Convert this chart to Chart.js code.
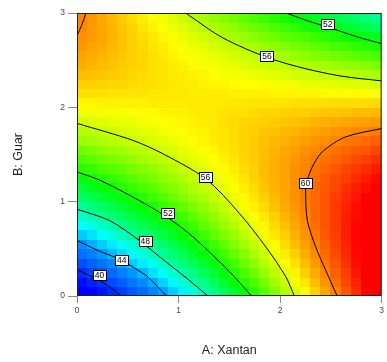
<!DOCTYPE html>
<html>
<head>
<meta charset="utf-8">
<script src="https://cdn.jsdelivr.net/npm/chart.js@4"></script>
<style>
    html, body { margin: 0; padding: 0; background: #fff; }
    canvas { display: block; }
</style>
</head>
<body>
<canvas id="contourChart" width="387" height="362"></canvas>
<script>
// cell centres of the response grid (A: Xantan across, B: Guar up)
const xantanCenters = [0.05, 0.15, 0.25, 0.35, 0.45, 0.55, 0.65, 0.75, 0.85, 0.95,
    1.05, 1.15, 1.25, 1.35, 1.45, 1.55, 1.65, 1.75, 1.85, 1.95,
    2.05, 2.15, 2.25, 2.35, 2.45, 2.55, 2.65, 2.75, 2.85, 2.95];
const guarCenters = [0.05, 0.15, 0.25, 0.35, 0.45, 0.55, 0.65, 0.75, 0.85, 0.95,
    1.05, 1.15, 1.25, 1.35, 1.45, 1.55, 1.65, 1.75, 1.85, 1.95,
    2.05, 2.15, 2.25, 2.35, 2.45, 2.55, 2.65, 2.75, 2.85, 2.95];

// response per cell, one row per guar level (bottom row first)
const responseByGuar = [
    [37.0, 37.9, 38.8, 39.8, 40.7, 41.6, 42.5, 43.5, 44.4, 45.3, 46.2, 47.2, 48.1, 49.0, 49.9, 50.9, 51.8, 52.7, 53.6, 54.6, 55.5, 56.4, 57.3, 58.3, 59.2, 60.1, 61.0, 62.0, 62.9, 63.8],
    [38.5, 39.4, 40.2, 41.1, 42.0, 42.9, 43.8, 44.6, 45.5, 46.4, 47.3, 48.2, 49.0, 49.9, 50.8, 51.7, 52.6, 53.4, 54.3, 55.2, 56.1, 57.0, 57.8, 58.7, 59.6, 60.5, 61.4, 62.2, 63.1, 64.0],
    [39.9, 40.8, 41.6, 42.4, 43.3, 44.1, 44.9, 45.8, 46.6, 47.5, 48.3, 49.1, 50.0, 50.8, 51.6, 52.5, 53.3, 54.1, 55.0, 55.8, 56.6, 57.5, 58.3, 59.1, 60.0, 60.8, 61.6, 62.5, 63.3, 64.2],
    [41.3, 42.1, 42.9, 43.7, 44.5, 45.3, 46.1, 46.9, 47.7, 48.5, 49.2, 50.0, 50.8, 51.6, 52.4, 53.2, 54.0, 54.8, 55.6, 56.3, 57.1, 57.9, 58.7, 59.5, 60.3, 61.1, 61.9, 62.7, 63.5, 64.2],
    [42.7, 43.4, 44.2, 44.9, 45.7, 46.4, 47.2, 47.9, 48.7, 49.4, 50.1, 50.9, 51.6, 52.4, 53.1, 53.9, 54.6, 55.4, 56.1, 56.8, 57.6, 58.3, 59.1, 59.8, 60.6, 61.3, 62.1, 62.8, 63.5, 64.3],
    [44.0, 44.7, 45.4, 46.1, 46.8, 47.5, 48.2, 48.9, 49.6, 50.3, 51.0, 51.7, 52.4, 53.1, 53.8, 54.5, 55.2, 55.9, 56.6, 57.3, 58.0, 58.7, 59.4, 60.1, 60.8, 61.5, 62.2, 62.9, 63.6, 64.3],
    [45.3, 45.9, 46.6, 47.2, 47.9, 48.5, 49.2, 49.8, 50.5, 51.1, 51.8, 52.4, 53.1, 53.8, 54.4, 55.1, 55.7, 56.4, 57.0, 57.7, 58.3, 59.0, 59.6, 60.3, 61.0, 61.6, 62.3, 62.9, 63.6, 64.2],
    [46.5, 47.1, 47.7, 48.3, 48.9, 49.5, 50.1, 50.7, 51.3, 51.9, 52.5, 53.1, 53.8, 54.4, 55.0, 55.6, 56.2, 56.8, 57.4, 58.0, 58.6, 59.2, 59.8, 60.5, 61.1, 61.7, 62.3, 62.9, 63.5, 64.1],
    [47.6, 48.2, 48.7, 49.3, 49.9, 50.4, 51.0, 51.5, 52.1, 52.7, 53.2, 53.8, 54.4, 54.9, 55.5, 56.1, 56.6, 57.2, 57.7, 58.3, 58.9, 59.4, 60.0, 60.6, 61.1, 61.7, 62.3, 62.8, 63.4, 64.0],
    [48.7, 49.2, 49.7, 50.3, 50.8, 51.3, 51.8, 52.3, 52.8, 53.4, 53.9, 54.4, 54.9, 55.4, 56.0, 56.5, 57.0, 57.5, 58.0, 58.6, 59.1, 59.6, 60.1, 60.6, 61.1, 61.7, 62.2, 62.7, 63.2, 63.7],
    [49.7, 50.2, 50.7, 51.2, 51.6, 52.1, 52.6, 53.1, 53.5, 54.0, 54.5, 55.0, 55.4, 55.9, 56.4, 56.8, 57.3, 57.8, 58.3, 58.7, 59.2, 59.7, 60.2, 60.6, 61.1, 61.6, 62.1, 62.5, 63.0, 63.5],
    [50.7, 51.2, 51.6, 52.0, 52.5, 52.9, 53.3, 53.7, 54.2, 54.6, 55.0, 55.5, 55.9, 56.3, 56.7, 57.2, 57.6, 58.0, 58.5, 58.9, 59.3, 59.7, 60.2, 60.6, 61.0, 61.4, 61.9, 62.3, 62.7, 63.2],
    [51.7, 52.1, 52.5, 52.8, 53.2, 53.6, 54.0, 54.4, 54.8, 55.1, 55.5, 55.9, 56.3, 56.7, 57.0, 57.4, 57.8, 58.2, 58.6, 59.0, 59.3, 59.7, 60.1, 60.5, 60.9, 61.3, 61.6, 62.0, 62.4, 62.8],
    [52.6, 52.9, 53.3, 53.6, 53.9, 54.3, 54.6, 54.9, 55.3, 55.6, 56.0, 56.3, 56.6, 57.0, 57.3, 57.6, 58.0, 58.3, 58.7, 59.0, 59.3, 59.7, 60.0, 60.4, 60.7, 61.0, 61.4, 61.7, 62.0, 62.4],
    [53.4, 53.7, 54.0, 54.3, 54.6, 54.9, 55.2, 55.5, 55.8, 56.1, 56.4, 56.6, 56.9, 57.2, 57.5, 57.8, 58.1, 58.4, 58.7, 59.0, 59.3, 59.6, 59.9, 60.2, 60.4, 60.7, 61.0, 61.3, 61.6, 61.9],
    [54.2, 54.5, 54.7, 55.0, 55.2, 55.5, 55.7, 56.0, 56.2, 56.4, 56.7, 56.9, 57.2, 57.4, 57.7, 57.9, 58.2, 58.4, 58.7, 58.9, 59.2, 59.4, 59.7, 59.9, 60.2, 60.4, 60.7, 60.9, 61.1, 61.4],
    [55.0, 55.2, 55.4, 55.6, 55.8, 56.0, 56.2, 56.4, 56.6, 56.8, 57.0, 57.2, 57.4, 57.6, 57.8, 58.0, 58.2, 58.4, 58.6, 58.8, 59.0, 59.2, 59.4, 59.6, 59.8, 60.0, 60.2, 60.4, 60.6, 60.8],
    [55.6, 55.8, 56.0, 56.1, 56.3, 56.4, 56.6, 56.7, 56.9, 57.1, 57.2, 57.4, 57.5, 57.7, 57.8, 58.0, 58.2, 58.3, 58.5, 58.6, 58.8, 58.9, 59.1, 59.3, 59.4, 59.6, 59.7, 59.9, 60.0, 60.2],
    [56.3, 56.4, 56.5, 56.6, 56.7, 56.8, 57.0, 57.1, 57.2, 57.3, 57.4, 57.5, 57.6, 57.7, 57.9, 58.0, 58.1, 58.2, 58.3, 58.4, 58.5, 58.6, 58.7, 58.9, 59.0, 59.1, 59.2, 59.3, 59.4, 59.5],
    [56.9, 56.9, 57.0, 57.1, 57.1, 57.2, 57.3, 57.3, 57.4, 57.5, 57.5, 57.6, 57.7, 57.7, 57.8, 57.9, 57.9, 58.0, 58.1, 58.1, 58.2, 58.3, 58.3, 58.4, 58.5, 58.5, 58.6, 58.7, 58.7, 58.8],
    [57.4, 57.4, 57.5, 57.5, 57.5, 57.5, 57.5, 57.6, 57.6, 57.6, 57.6, 57.7, 57.7, 57.7, 57.7, 57.7, 57.8, 57.8, 57.8, 57.8, 57.8, 57.9, 57.9, 57.9, 57.9, 58.0, 58.0, 58.0, 58.0, 58.0],
    [57.9, 57.9, 57.9, 57.8, 57.8, 57.8, 57.8, 57.7, 57.7, 57.7, 57.7, 57.6, 57.6, 57.6, 57.6, 57.5, 57.5, 57.5, 57.5, 57.4, 57.4, 57.4, 57.4, 57.4, 57.3, 57.3, 57.3, 57.3, 57.2, 57.2],
    [58.3, 58.3, 58.2, 58.1, 58.1, 58.0, 57.9, 57.9, 57.8, 57.7, 57.6, 57.6, 57.5, 57.4, 57.4, 57.3, 57.2, 57.2, 57.1, 57.0, 57.0, 56.9, 56.8, 56.7, 56.7, 56.6, 56.5, 56.5, 56.4, 56.3],
    [58.7, 58.6, 58.5, 58.4, 58.3, 58.1, 58.0, 57.9, 57.8, 57.7, 57.6, 57.5, 57.4, 57.2, 57.1, 57.0, 56.9, 56.8, 56.7, 56.6, 56.4, 56.3, 56.2, 56.1, 56.0, 55.9, 55.8, 55.6, 55.5, 55.4],
    [59.1, 58.9, 58.7, 58.6, 58.4, 58.3, 58.1, 57.9, 57.8, 57.6, 57.5, 57.3, 57.1, 57.0, 56.8, 56.7, 56.5, 56.3, 56.2, 56.0, 55.9, 55.7, 55.5, 55.4, 55.2, 55.1, 54.9, 54.8, 54.6, 54.4],
    [59.3, 59.1, 58.9, 58.7, 58.5, 58.3, 58.1, 57.9, 57.7, 57.5, 57.3, 57.1, 56.9, 56.7, 56.5, 56.3, 56.1, 55.9, 55.7, 55.5, 55.2, 55.0, 54.8, 54.6, 54.4, 54.2, 54.0, 53.8, 53.6, 53.4],
    [59.6, 59.3, 59.1, 58.8, 58.6, 58.3, 58.1, 57.8, 57.6, 57.3, 57.1, 56.8, 56.6, 56.3, 56.1, 55.8, 55.6, 55.3, 55.1, 54.8, 54.6, 54.3, 54.1, 53.8, 53.6, 53.3, 53.1, 52.8, 52.6, 52.3],
    [59.7, 59.5, 59.2, 58.9, 58.6, 58.3, 58.0, 57.7, 57.4, 57.1, 56.8, 56.5, 56.2, 55.9, 55.6, 55.3, 55.0, 54.7, 54.4, 54.1, 53.8, 53.6, 53.3, 53.0, 52.7, 52.4, 52.1, 51.8, 51.5, 51.2],
    [59.9, 59.5, 59.2, 58.9, 58.5, 58.2, 57.8, 57.5, 57.2, 56.8, 56.5, 56.1, 55.8, 55.5, 55.1, 54.8, 54.4, 54.1, 53.8, 53.4, 53.1, 52.7, 52.4, 52.1, 51.7, 51.4, 51.0, 50.7, 50.4, 50.0],
    [60.0, 59.6, 59.2, 58.8, 58.4, 58.0, 57.6, 57.3, 56.9, 56.5, 56.1, 55.7, 55.3, 54.9, 54.6, 54.2, 53.8, 53.4, 53.0, 52.6, 52.2, 51.9, 51.5, 51.1, 50.7, 50.3, 49.9, 49.6, 49.2, 48.8]
];

// contour lines as [xantan, guar] pairs
const contour40 = [[0, 0.28], [0.147, 0.204], [0.294, 0.116], [0.44, 0]];
const contour44 = [[0, 0.59], [0.2, 0.485], [0.44, 0.38], [0.56, 0.3], [0.7, 0.2], [0.88, 0]];
const contour48 = [[0, 0.92], [0.32, 0.8], [0.6, 0.6], [0.82, 0.41], [1.09, 0.18], [1.29, 0]];
const contour52 = [[0, 1.315], [0.225, 1.228], [0.6, 1.02], [0.88, 0.84], [1.1, 0.665], [1.3, 0.47], [1.5, 0.26], [1.72, 0]];
const contour56 = [[0, 1.83], [0.55, 1.65], [0.86, 1.5], [1.27, 1.24], [1.6, 0.875], [1.86, 0.52], [2.056, 0.204], [2.14, 0]];
const contour60 = [[3, 1.775], [2.644, 1.686], [2.415, 1.527], [2.317, 1.368], [2.268, 1.228], [2.252, 1.122], [2.268, 0.804], [2.35, 0.522], [2.448, 0.275], [2.562, 0]];
const contour56Top = [[1.07, 3], [1.11, 2.97], [1.43, 2.74], [1.87, 2.53], [2.25, 2.41], [2.61, 2.33], [3, 2.28]];
const contour52Top = [[2.06, 3], [2.25, 2.925], [2.41, 2.87], [2.53, 2.83], [2.75, 2.75], [3, 2.675]];
const contour60Corner = [[0.088, 3], [0.046, 2.87], [0, 2.76]];

// boxed level labels sitting on the lines
const labelValues = [40, 44, 48, 52, 56, 60, 56, 52];
const labelXantan = [0.222, 0.441, 0.673, 0.895, 1.265, 2.25, 1.87, 2.469];
const labelGuar = [0.225, 0.381, 0.582, 0.88, 1.259, 1.201, 2.547, 2.886];

// lone marker above the top edge
const markerPoint = [[1.544, 3.05]];

const axisTicks = [0, 1, 2, 3];

const FONT = 'Arial, "Liberation Sans", sans-serif';

// blue -> cyan -> green -> yellow -> red
const colorStops = [
    [38.0, [0, 0, 255]],
    [44.0, [0, 144, 255]],
    [46.5, [0, 255, 255]],
    [51.8, [0, 255, 0]],
    [57.2, [255, 255, 0]],
    [63.0, [255, 0, 0]]
];

function colorFor(z) {
    if (z <= colorStops[0][0]) return 'rgb(' + colorStops[0][1].join(',') + ')';
    for (let k = 1; k < colorStops.length; k++) {
        const [z1, c1] = colorStops[k];
        if (z <= z1) {
            const [z0, c0] = colorStops[k - 1];
            const t = (z - z0) / (z1 - z0);
            const c = c0.map((v, i) => Math.round(v + (c1[i] - v) * t));
            return 'rgb(' + c.join(',') + ')';
        }
    }
    return 'rgb(' + colorStops[colorStops.length - 1][1].join(',') + ')';
}

function toPoints(pairs) {
    return pairs.map(p => ({ x: p[0], y: p[1] }));
}

function contourLine(pairs) {
    return {
        data: toPoints(pairs),
        showLine: true,
        borderColor: '#000',
        borderWidth: 1,
        pointRadius: 0,
        tension: 0.3,
        fill: false
    };
}

// filled cells under the contour lines
const heatmapPlugin = {
    id: 'heatmap',
    beforeDatasetsDraw(chart) {
        const { ctx, chartArea, scales: { x, y } } = chart;
        const halfA = (xantanCenters[1] - xantanCenters[0]) / 2;
        const halfB = (guarCenters[1] - guarCenters[0]) / 2;
        ctx.save();
        ctx.beginPath();
        ctx.rect(chartArea.left, chartArea.top, chartArea.right - chartArea.left, chartArea.bottom - chartArea.top);
        ctx.clip();
        guarCenters.forEach((b, j) => {
            const yTop = Math.floor(y.getPixelForValue(b + halfB));
            const yBottom = Math.ceil(y.getPixelForValue(b - halfB));
            xantanCenters.forEach((a, i) => {
                const xLeft = Math.floor(x.getPixelForValue(a - halfA));
                const xRight = Math.ceil(x.getPixelForValue(a + halfA));
                ctx.fillStyle = colorFor(responseByGuar[j][i]);
                ctx.fillRect(xLeft, yTop, xRight - xLeft, yBottom - yTop);
            });
        });
        ctx.restore();
    }
};

// frame round the plot and the boxed contour labels
const overlayPlugin = {
    id: 'overlay',
    afterDatasetsDraw(chart) {
        const { ctx, chartArea, scales: { x, y } } = chart;
        ctx.save();
        ctx.strokeStyle = '#222';
        ctx.lineWidth = 1;
        ctx.strokeRect(chartArea.left + 0.5, chartArea.top + 0.5,
            chartArea.right - chartArea.left - 1, chartArea.bottom - chartArea.top - 1);

        ctx.font = '8.5px ' + FONT;
        ctx.textAlign = 'center';
        ctx.textBaseline = 'middle';
        labelValues.forEach((v, k) => {
            const px = x.getPixelForValue(labelXantan[k]);
            const py = y.getPixelForValue(labelGuar[k]);
            const text = String(v);
            const w = Math.round(ctx.measureText(text).width + 4);
            const h = 10;
            const left = Math.round(px - w / 2) + 0.5;
            const top = Math.round(py - h / 2) + 0.5;
            ctx.fillStyle = '#fff';
            ctx.fillRect(left, top, w, h);
            ctx.strokeStyle = '#000';
            ctx.strokeRect(left, top, w, h);
            ctx.fillStyle = '#000';
            ctx.fillText(text, px, py + 0.5);
        });
        ctx.restore();
    }
};

document.addEventListener('DOMContentLoaded', function() {
    const chart = new Chart(
        document.getElementById('contourChart'),
        {
            type: 'scatter',
            data: {
                datasets: [
                    contourLine(contour40),
                    contourLine(contour44),
                    contourLine(contour48),
                    contourLine(contour52),
                    contourLine(contour56),
                    contourLine(contour60),
                    contourLine(contour56Top),
                    contourLine(contour52Top),
                    contourLine(contour60Corner),
                    {
                        data: toPoints(markerPoint),
                        pointRadius: 1.3,
                        pointBackgroundColor: '#333',
                        pointBorderWidth: 0,
                        clip: false
                    }
                ]
            },
            options: {
                responsive: false,
                animation: false,
                layout: { padding: { left: 0, right: 4, top: 13, bottom: 0 } },
                plugins: {
                    legend: { display: false },
                    tooltip: { enabled: false }
                },
                scales: {
                    x: {
                        type: 'linear',
                        min: axisTicks[0],
                        max: axisTicks[axisTicks.length - 1],
                        afterFit(scale) { scale.height = 66; },
                        afterBuildTicks(scale) { scale.ticks = axisTicks.map(v => ({ value: v })); },
                        ticks: { font: { size: 8.5, family: FONT }, color: '#444', padding: 3, maxRotation: 0 },
                        grid: { drawOnChartArea: false, tickLength: 7, color: '#888' },
                        border: { display: false },
                        title: {
                            display: true,
                            text: 'A: Xantan',
                            color: '#222',
                            font: { size: 12.5, family: FONT },
                            padding: { top: 0, bottom: 3.5 }
                        }
                    },
                    y: {
                        type: 'linear',
                        min: axisTicks[0],
                        max: axisTicks[axisTicks.length - 1],
                        afterFit(scale) { scale.width = 77; },
                        afterBuildTicks(scale) { scale.ticks = axisTicks.map(v => ({ value: v })); },
                        ticks: { font: { size: 8.5, family: FONT }, color: '#444', padding: 3 },
                        grid: { drawOnChartArea: false, tickLength: 9, color: '#888' },
                        border: { display: false },
                        title: {
                            display: true,
                            text: 'B: Guar',
                            color: '#222',
                            font: { size: 12.5, family: FONT },
                            padding: { top: 11, bottom: 0 }
                        }
                    }
                }
            },
            plugins: [heatmapPlugin, overlayPlugin]
        }
    );
});
</script>
</body>
</html>
